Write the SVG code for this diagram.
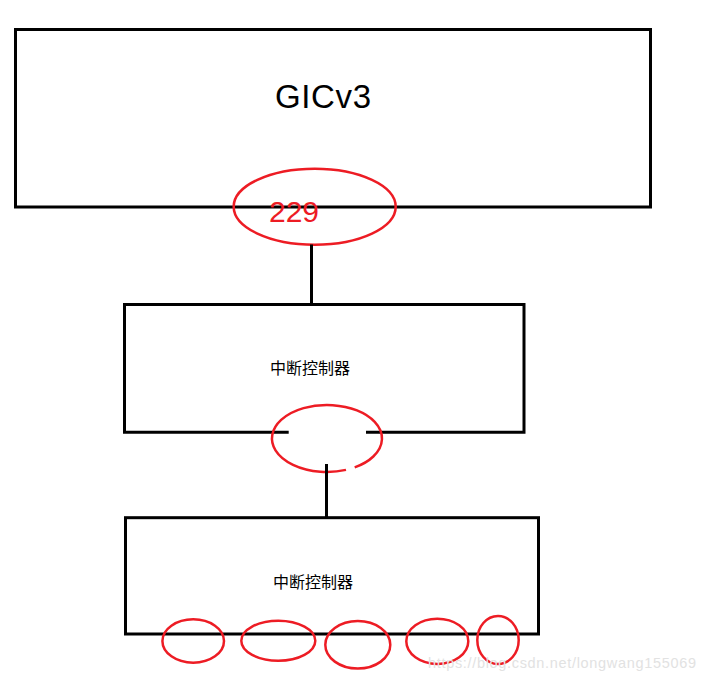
<svg xmlns="http://www.w3.org/2000/svg" width="706" height="682" viewBox="0 0 706 682">
<style>
.box{fill:none;stroke:#000;stroke-width:3}
.ln{stroke:#000;stroke-width:3;fill:none}
.ring{fill:none;stroke:#ed1c24;stroke-width:2.5}
.cn{font-family:"Noto Sans CJK SC","Noto Sans",sans-serif;font-size:16px;fill:#000}
</style>
<rect width="706" height="682" fill="#fff"/>
<g id="gicv3">
<rect class="box" x="15.5" y="29.5" width="635" height="177.5"/>
<text x="275" y="108" font-family="Liberation Sans, Arial, sans-serif" font-size="33" textLength="96" fill="#000">GICv3</text>
</g>
<g id="irq229">
<ellipse class="ring" cx="314.7" cy="206.7" rx="81" ry="38"/>
<text x="269" y="222" font-family="Liberation Sans, Arial, sans-serif" font-size="30" fill="#ed1c24">229</text>
</g>
<g id="ctrl1">
<path class="ln" d="M288.7 432.3 H124.5 V304.5 H524 V432.3 H366"/>
<text class="cn" x="270" y="374">中断控制器</text>
</g>
<g id="ctrl1-port">
<path class="ring" d="M346 469.9 A55 33.5 0 1 1 354.7 467.4"/>
</g>
<g id="ctrl2">
<rect class="box" x="125.5" y="517.7" width="413" height="116.3"/>
<text class="cn" x="273" y="588">中断控制器</text>
</g>
<g id="ports">
<ellipse class="ring" cx="193.2" cy="641" rx="30.8" ry="21.7"/>
<ellipse class="ring" cx="278.3" cy="640.7" rx="37" ry="20"/>
<ellipse class="ring" cx="357.8" cy="644.8" rx="32.5" ry="23.8"/>
<ellipse class="ring" cx="437.3" cy="641.3" rx="31" ry="22.6"/>
<ellipse class="ring" cx="498" cy="640" rx="20.7" ry="24"/>
</g>
<g id="connectors">
<line class="ln" x1="311.5" y1="244.5" x2="311.5" y2="305"/>
<line class="ln" x1="326.5" y1="464" x2="326.5" y2="519"/>
</g>
<text x="428" y="668" font-family="Liberation Sans, Arial, sans-serif" font-size="14.5" fill="#e2e2e2" textLength="268">https://blog.csdn.net/longwang155069</text>
</svg>
